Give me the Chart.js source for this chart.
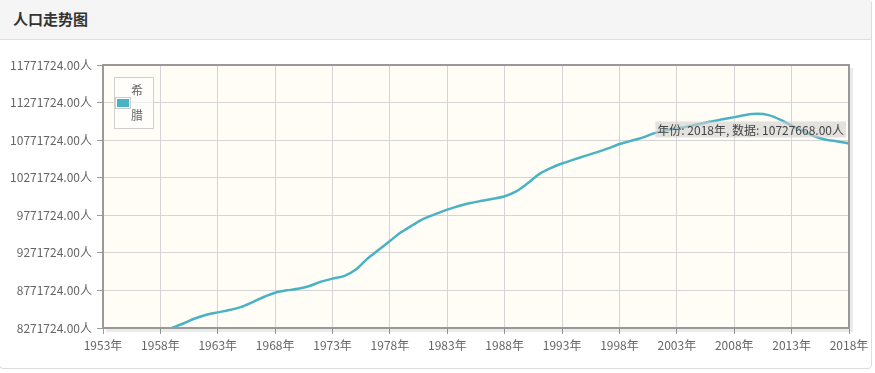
<!DOCTYPE html>
<html>
<head>
<meta charset="utf-8">
<script src="https://cdn.jsdelivr.net/npm/chart.js@4/dist/chart.umd.min.js"></script>
<style>
  html, body { margin: 0; padding: 0; background: #fff; }
  body { width: 875px; height: 373px; position: relative; overflow: hidden; font-family: "Noto Sans CJK SC", "Noto Sans", sans-serif; }
  #panel { position: absolute; left: -1px; top: -1px; width: 873px; height: 370px; border: 1px solid #dcdcdc; border-radius: 4px; box-sizing: border-box; background: #fff; }
  #head { position: absolute; left: 0; top: 0; right: 0; height: 39px; background: #f5f5f5; border-bottom: 1px solid #dedede; }
  #title { position: absolute; left: 13px; top: 9px; font-size: 15px; font-weight: bold; color: #333; line-height: 20px; }
  #c { position: absolute; left: 0; top: 0; }
</style>
</head>
<body>
<div id="panel"><div id="head"><div id="title">人口走势图</div></div></div>
<canvas id="c" width="875" height="373"></canvas>
<script>
// ---- data ----
const seriesName = "希腊";
const years = [1959,1960,1961,1962,1963,1964,1965,1966,1967,1968,1969,1970,1971,1972,1973,1974,1975,1976,1977,1978,1979,1980,1981,1982,1983,1984,1985,1986,1987,1988,1989,1990,1991,1992,1993,1994,1995,1996,1997,1998,1999,2000,2001,2002,2003,2004,2005,2006,2007,2008,2009,2010,2011,2012,2013,2014,2015,2016,2017,2018];
const population = [8271724,8331725,8398050,8448233,8479625,8510429,8550333,8613651,8684088,8740765,8772764,8792806,8831036,8888628,8929086,8962022,9046541,9188150,9308479,9429959,9548258,9642505,9729350,9789513,9846627,9895801,9934300,9964004,9992393,10025145,10089498,10196792,10319927,10399061,10460415,10512922,10562153,10608800,10661259,10720509,10761698,10805808,10862132,10902022,10928070,10955141,10987314,11020362,11048473,11077841,11107017,11121341,11104899,11045011,10965211,10892413,10820883,10775971,10754679,10727668];
const xMin = 1953, xMax = 2018, xStep = 5;
const yMin = 8271724, yMax = 11771724, yStep = 500000;
const yearSuffix = "年";
const unitSuffix = "人";
const tooltipYear = 2018;

const points = years.map((y, i) => ({ x: y, y: population[i] }));

Chart.defaults.font.family = '"Noto Sans CJK SC", "Noto Sans", sans-serif';
Chart.defaults.font.size = 12;
Chart.defaults.color = '#666';

const decor = {
  id: 'decor',
  beforeDraw(chart) {
    const { ctx, chartArea: a } = chart;
    ctx.save();
    ctx.fillStyle = '#fffdf6';
    ctx.fillRect(a.left, a.top, a.right - a.left, a.bottom - a.top);
    ctx.restore();
  },
  afterDraw(chart) {
    const { ctx, chartArea: a } = chart;
    ctx.save();
    // shadow
    ctx.strokeStyle = 'rgba(0,0,0,0.08)';
    ctx.lineWidth = 3;
    ctx.beginPath();
    ctx.moveTo(a.right + 2.5, a.top + 3);
    ctx.lineTo(a.right + 2.5, a.bottom + 2.5);
    ctx.lineTo(a.left + 3, a.bottom + 2.5);
    ctx.stroke();
    // border
    ctx.strokeStyle = '#999';
    ctx.lineWidth = 2;
    ctx.strokeRect(a.left, a.top, a.right - a.left, a.bottom - a.top);

    // legend
    const lx = a.left + 11, ly = a.top + 12;
    ctx.fillStyle = 'rgba(255,255,255,0.6)';
    ctx.fillRect(lx, ly, 39, 51);
    ctx.strokeStyle = '#d0d0d0';
    ctx.lineWidth = 1;
    ctx.strokeRect(lx + 0.5, ly + 0.5, 39, 51);
    ctx.fillStyle = '#fff';
    ctx.fillRect(lx + 1, ly + 20, 16, 12);
    ctx.strokeStyle = '#ccc';
    ctx.strokeRect(lx + 1.5, ly + 20.5, 15, 11);
    ctx.fillStyle = '#4bb2c5';
    ctx.fillRect(lx + 3, ly + 22, 12, 8);
    ctx.fillStyle = '#666';
    ctx.font = '12px "Noto Sans CJK SC", sans-serif';
    ctx.textAlign = 'left';
    ctx.textBaseline = 'middle';
    const chars = Array.from(seriesName);
    ctx.fillText(chars[0], lx + 17, ly + 13);
    ctx.fillText(chars[1], lx + 17, ly + 38);

    // tooltip at the hovered point
    const idx = years.indexOf(tooltipYear);
    const px = chart.scales.x.getPixelForValue(years[idx]);
    const py = chart.scales.y.getPixelForValue(population[idx]);
    const text = '年份: ' + years[idx] + yearSuffix + ', 数据: ' + population[idx].toFixed(2) + unitSuffix;
    ctx.font = '12px "Noto Sans CJK SC", sans-serif';
    const tw = ctx.measureText(text).width;
    const bw = tw + 4, bh = 16;
    const bx = px - 3 - bw, by = py - 6 - bh;
    ctx.fillStyle = 'rgba(208,208,208,0.6)';
    ctx.fillRect(bx, by, bw, bh);
    ctx.fillStyle = '#444';
    ctx.textBaseline = 'middle';
    ctx.fillText(text, bx + 2, by + bh / 2 + 0.5);
    ctx.restore();
  }
};

new Chart(document.getElementById('c'), {
  type: 'line',
  data: {
    datasets: [{
      label: seriesName,
      data: points,
      borderColor: '#4bb2c5',
      backgroundColor: '#4bb2c5',
      borderWidth: 2.5,
      pointRadius: 0,
      tension: 0.3,
      fill: false
    }]
  },
  options: {
    responsive: false,
    animation: false,
    layout: { padding: { left: 0, top: 65, right: 26, bottom: 15 } },
    plugins: { legend: { display: false }, tooltip: { enabled: false } },
    scales: {
      x: {
        type: 'linear',
        min: xMin, max: xMax,
        afterFit: s => { s.height = 30; },
        ticks: { stepSize: xStep, padding: 4, maxRotation: 0, autoSkip: false, color: '#666',
          callback: v => v + yearSuffix },
        grid: { color: '#d4d4d4', tickLength: 6, tickColor: '#999', lineWidth: 1 },
        border: { display: false }
      },
      y: {
        type: 'linear',
        min: yMin, max: yMax,
        afterFit: s => { s.width = 103; },
        ticks: { stepSize: yStep, padding: 5, color: '#666',
          callback: v => Number(v).toFixed(2) + unitSuffix },
        grid: { color: '#d4d4d4', tickLength: 6, tickColor: '#999', lineWidth: 1 },
        border: { display: false }
      }
    }
  },
  plugins: [decor]
});
</script>
</body>
</html>
